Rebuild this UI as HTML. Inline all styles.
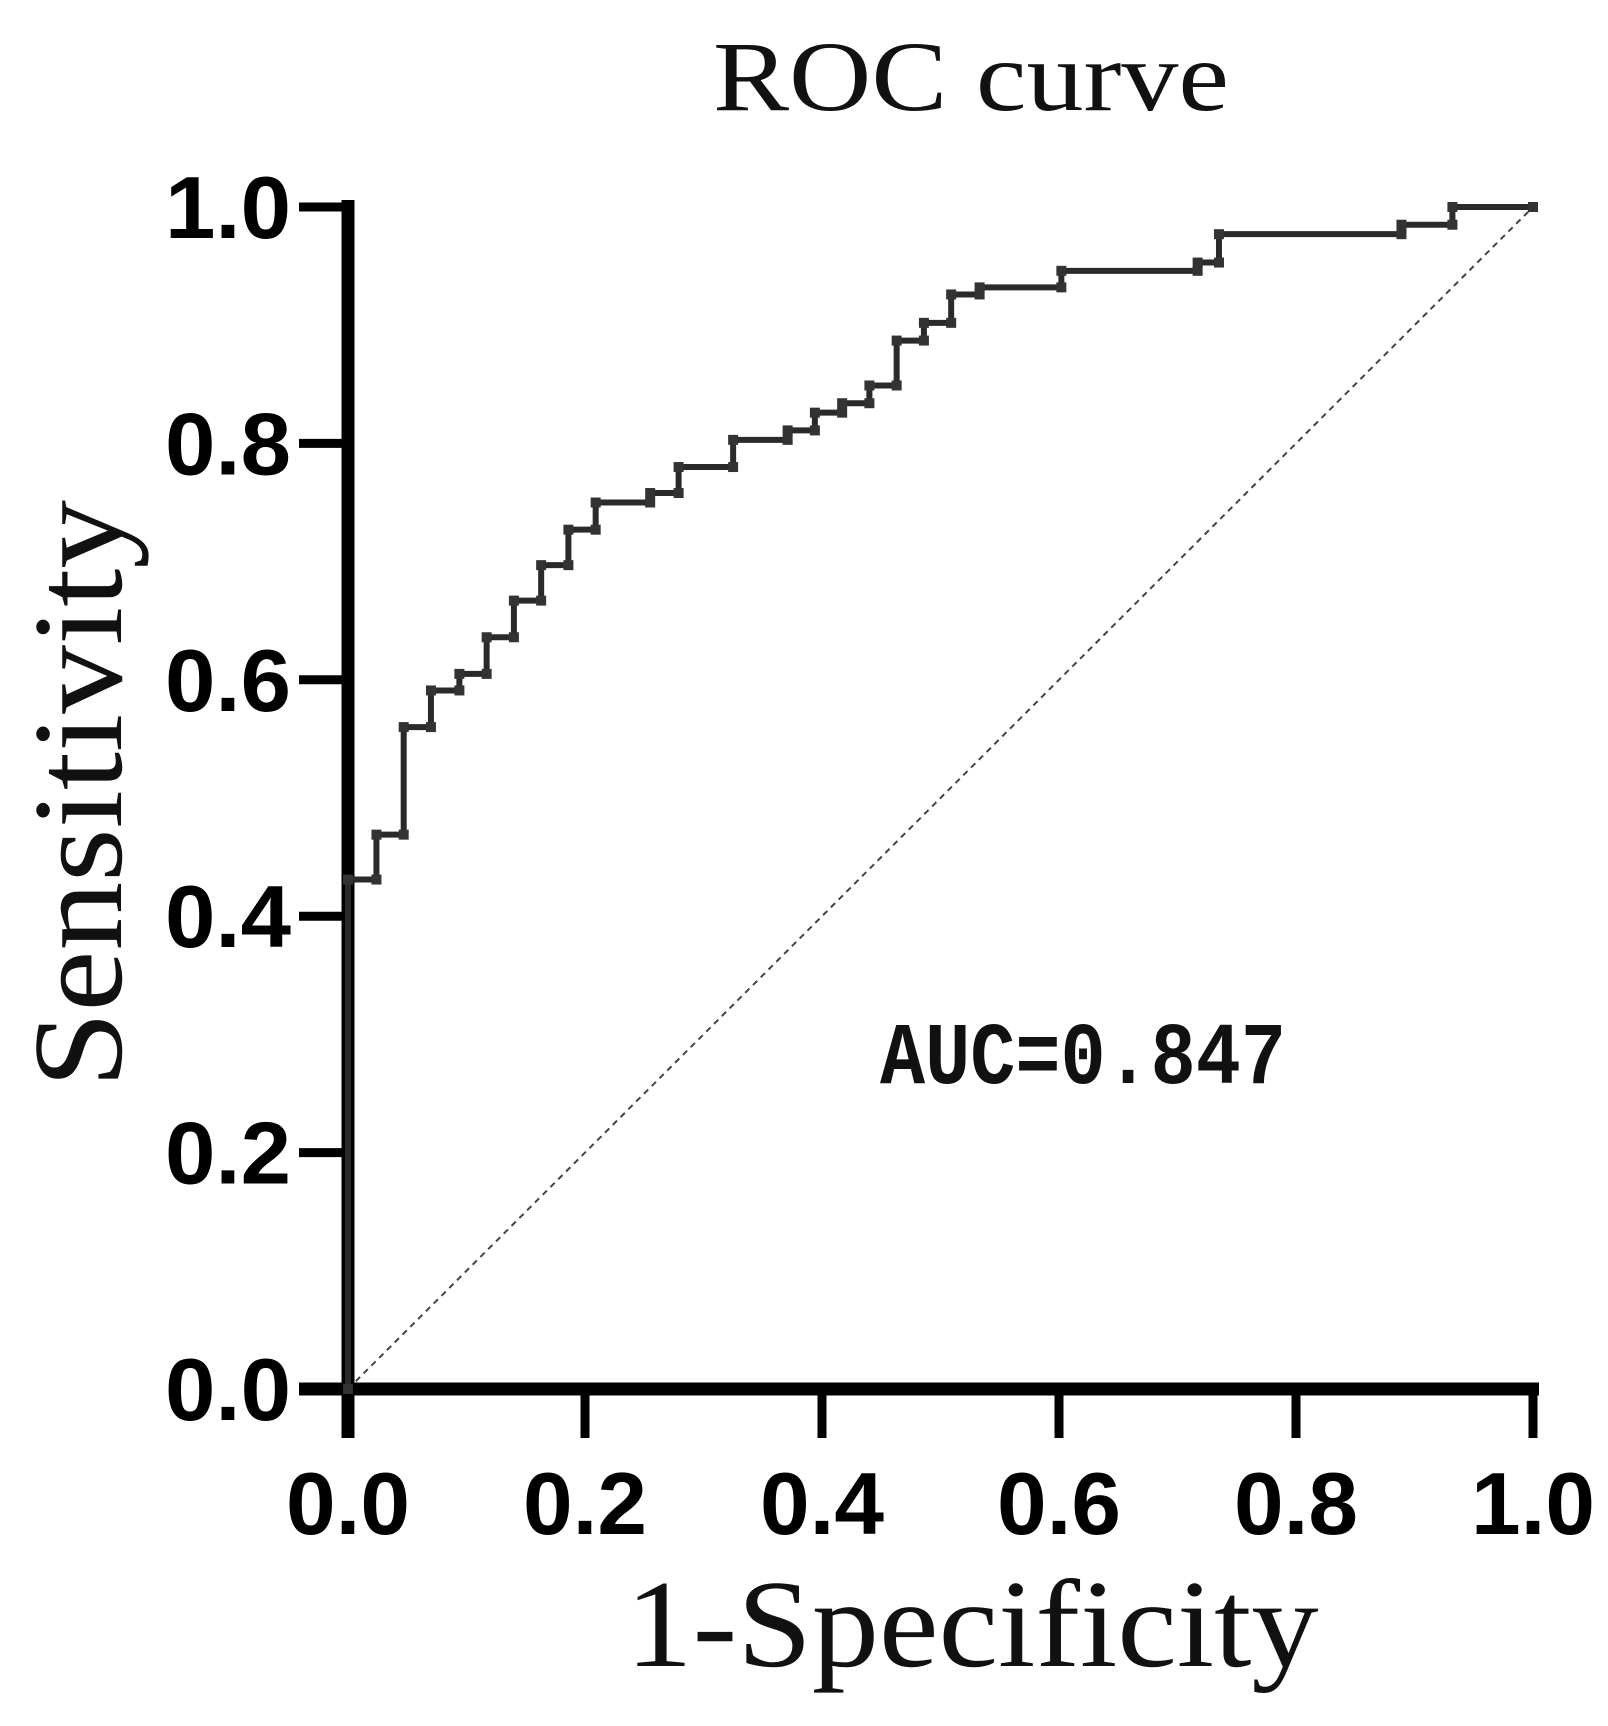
<!DOCTYPE html>
<html><head><meta charset="utf-8"><style>html,body{margin:0;padding:0;background:#fff}svg{display:block}</style></head>
<body>
<svg width="1608" height="1726" viewBox="0 0 1608 1726">
<text x="971" y="110" text-anchor="middle" font-family="Liberation Serif, serif" font-size="100" textLength="516" lengthAdjust="spacingAndGlyphs" fill="#111">ROC curve</text>
<g id="axes"></g>
<g id="plot"></g>
<text x="972" y="1666" text-anchor="middle" font-family="Liberation Serif, serif" font-size="125" textLength="693" lengthAdjust="spacingAndGlyphs" fill="#111">1-Specificity</text>
<text transform="translate(121,794) rotate(-90)" text-anchor="middle" font-family="Liberation Serif, serif" font-size="128" textLength="588" lengthAdjust="spacingAndGlyphs" fill="#111">Sensitivity</text>
<text x="880" y="1083" font-family="Liberation Mono, monospace" font-weight="bold" font-size="88" textLength="406" lengthAdjust="spacingAndGlyphs" fill="#111">AUC=0.847</text>
</svg>
<script>
const fpr = [0,0,0.024,0.024,0.047,0.047,0.070,0.070,0.094,0.094,0.117,0.117,0.140,0.140,0.163,0.163,0.186,0.186,0.209,0.209,0.255,0.255,0.279,0.279,0.325,0.325,0.371,0.371,0.394,0.394,0.417,0.417,0.440,0.440,0.463,0.463,0.486,0.486,0.509,0.509,0.533,0.533,0.602,0.602,0.717,0.717,0.735,0.735,0.889,0.889,0.932,0.932,1.0];
const tpr = [0,0.431,0.431,0.469,0.469,0.560,0.560,0.591,0.591,0.605,0.605,0.636,0.636,0.667,0.667,0.697,0.697,0.727,0.727,0.750,0.750,0.758,0.758,0.780,0.780,0.803,0.803,0.811,0.811,0.826,0.826,0.834,0.834,0.849,0.849,0.887,0.887,0.902,0.902,0.926,0.926,0.932,0.932,0.946,0.946,0.953,0.953,0.977,0.977,0.985,0.985,1.0,1.0];
const ticks = [0,0.2,0.4,0.6,0.8,1.0];
const tickLabels = ["0.0","0.2","0.4","0.6","0.8","1.0"];
const NS="http://www.w3.org/2000/svg";
const X0=348,X1=1533,Y0=1389,Y1=207;
function sx(v){return X0+(X1-X0)*v;}
function sy(v){return Y0-(Y0-Y1)*v;}
function mk(tag,attrs,parent){const e=document.createElementNS(NS,tag);for(const k in attrs)e.setAttribute(k,attrs[k]);parent.appendChild(e);return e;}
const axes=document.getElementById('axes'), plot=document.getElementById('plot');
const diag=mk('line',{x1:sx(0),y1:sy(0),x2:sx(1),y2:sy(1),stroke:'#444','stroke-width':2,'stroke-dasharray':'6,5'},plot);


const ya=mk('line',{x1:X0,y1:Y1-7,x2:X0,y2:Y0+49,stroke:'#000','stroke-width':13},axes);


const xa=mk('line',{x1:X0-49,y1:Y0,x2:X1+6,y2:Y0,stroke:'#000','stroke-width':13},axes);


ticks.forEach((t,i)=>{
  const a=mk('line',{x1:X0-49,y1:sy(t),x2:X0,y2:sy(t),stroke:'#000','stroke-width':9},axes);
  
  
  const b=mk('line',{x1:sx(t),y1:Y0,x2:sx(t),y2:Y0+49,stroke:'#000','stroke-width':9},axes);
  
  
  const ly=mk('text',{x:291,y:sy(t)+31,'text-anchor':'end','font-family':'Liberation Sans, sans-serif','font-weight':'bold','font-size':88,textLength:126,lengthAdjust:'spacingAndGlyphs',fill:'#000'},axes);
  ly.textContent=tickLabels[i];
  
  
  const lx=mk('text',{x:sx(t),y:1534,'text-anchor':'middle','font-family':'Liberation Sans, sans-serif','font-weight':'bold','font-size':88,textLength:124,lengthAdjust:'spacingAndGlyphs',fill:'#000'},axes);
  lx.textContent=tickLabels[i];
  
  
});
const pts=fpr.map((f,i)=>sx(f)+','+sy(tpr[i])).join(' ');
const curve=mk('polyline',{points:pts,fill:'none',stroke:'#2a2a2a','stroke-width':6},plot);


fpr.forEach((f,i)=>{
  const m=mk('rect',{x:sx(f)-5,y:sy(tpr[i])-5,width:10,height:10,fill:'#333'},plot);
  
  
});
</script>
</body></html>
